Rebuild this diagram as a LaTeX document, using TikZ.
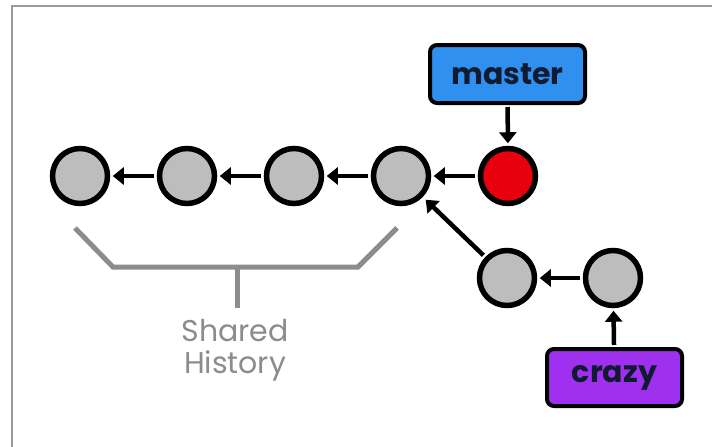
\documentclass[tikz,border=0pt]{standalone}
\usepackage{fontspec}
\setmainfont{Poppins}
\usetikzlibrary{arrows.meta}
\definecolor{commitgray}{HTML}{BDBDBD}
\definecolor{headred}{HTML}{E8000E}
\definecolor{masterblue}{HTML}{3090F0}
\definecolor{crazypurple}{HTML}{A030F0}
\definecolor{bracketgray}{HTML}{8C8C8C}
\definecolor{framegray}{HTML}{9A9A9A}
\definecolor{labelink}{HTML}{101A30}
\tikzset{
  commit/.style={circle, draw=black, line width=5.5pt, fill=commitgray, minimum size=55pt, inner sep=0pt},
  headcommit/.style={commit, fill=headred},
  branchbox/.style={rectangle, rounded corners=7pt, draw=black, line width=4pt, inner sep=0pt,
    text=labelink, font=\fontsize{30}{30}\selectfont\bfseries},
  parent/.style={line width=4.5pt, -{Triangle[length=11pt,width=17pt]}, shorten >=2.5pt, shorten <=2.5pt},
  pointer/.style={line width=4.5pt, -{Triangle[length=11pt,width=17pt]}, shorten >=2.5pt, shorten <=2pt},
  bracket/.style={draw=bracketgray, line width=5pt},
}
\begin{document}
\begin{tikzpicture}[x=1pt,y=-1pt]
\useasboundingbox (0,0) rectangle (712,447);
\fill[white] (0,0) rectangle (712,447);
\draw[framegray, line width=2pt] (12,447) -- (12,6) -- (712,6);

\node[commit] (c1) at (80,176) {};
\node[commit] (c2) at (187,176) {};
\node[commit] (c3) at (294,176) {};
\node[commit] (c4) at (401,176) {};
\node[headcommit] (c5) at (508,176) {};
\node[commit] (d1) at (507,278) {};
\node[commit] (d2) at (613,278) {};

\node[branchbox, fill=masterblue, minimum width=155pt, minimum height=58pt] (master) at (507.5,74) {master};
\node[branchbox, fill=crazypurple, minimum width=135pt, minimum height=57pt] (crazy) at (614.5,377.5) {crazy};

\draw[parent] (c2) -- (c1);
\draw[parent] (c3) -- (c2);
\draw[parent] (c4) -- (c3);
\draw[parent] (c5) -- (c4);
\draw[parent] (d2) -- (d1);
\draw[parent, shorten >=4pt] (d1) -- (c4);
\draw[pointer] (master) -- (c5);
\draw[pointer] (crazy) -- (d2);

\coordinate (bl) at (75,228);
\coordinate (br) at (397,228);
\coordinate (blc) at (113,267);
\coordinate (brc) at (358,267);
\coordinate (stemtop) at (237,267);
\coordinate (stembot) at (237,308);
\draw[bracket] (bl) -- (blc) -- (brc) -- (br);
\draw[bracket] (stemtop) -- (stembot);
\node[text=bracketgray, font=\fontsize{30}{32}\selectfont, align=center, anchor=north, inner sep=0pt] (shared) at (235,319) {Shared\\History};
\end{tikzpicture}
\end{document}
